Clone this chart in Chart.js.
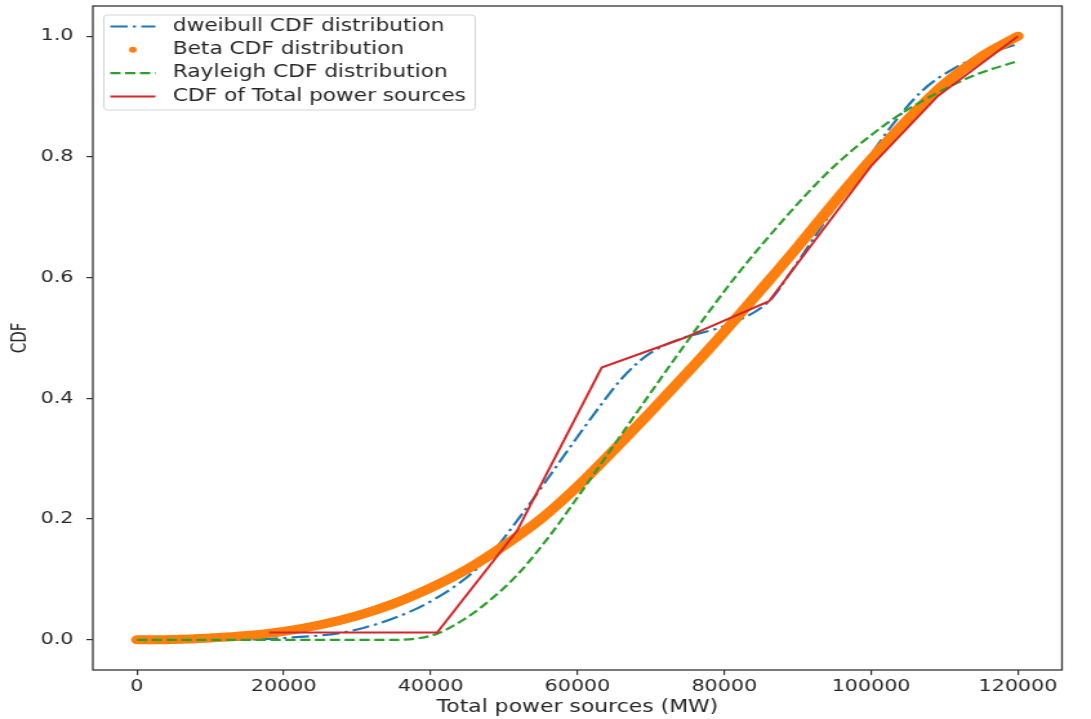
<!DOCTYPE html>
<html lang="en">
<head>
<meta charset="utf-8">
<title>CDF of Total power sources</title>
<script src="https://cdn.jsdelivr.net/npm/chart.js@4.4.0/dist/chart.umd.min.js"></script>
<style>
  html, body { margin: 0; padding: 0; background: #fff; }
  canvas { display: block; }
</style>
</head>
<body>
<!-- drawn narrower, then shown stretched to 1091px like the original figure -->
<canvas id="cdfChart" width="846" height="719" style="width:1091px;height:719px"></canvas>
<script>
// ─── DATA ────────────────────────────────────────────
const xTicks = [0, 20000, 40000, 60000, 80000, 100000, 120000];
const yTicks = [0, 0.2, 0.4, 0.6, 0.8, 1.0];

const dweibullX = [0, 10000, 20000, 30000, 40200, 47000, 52500, 58400, 63000, 66200, 69900, 74400, 80000, 86100, 89000, 93000, 98100, 102700, 107000, 111800, 116000, 120000];
const dweibullY = [0, 0, 0.003, 0.017, 0.065, 0.126, 0.209, 0.309, 0.386, 0.435, 0.475, 0.5, 0.52, 0.561, 0.608, 0.68, 0.77, 0.85, 0.91, 0.95, 0.972, 0.987];

const betaX = [0, 5000, 10000, 15000, 20000, 25000, 30000, 35000, 40000, 45000, 50000, 55000, 60000, 65000, 70000, 75000, 80000, 85000, 90000, 95000, 100000, 105000, 110000, 115000, 120000];
const betaY = [0, 0.0005, 0.003, 0.007, 0.014, 0.025, 0.040, 0.060, 0.086, 0.117, 0.156, 0.200, 0.254, 0.315, 0.378, 0.443, 0.510, 0.580, 0.651, 0.725, 0.796, 0.862, 0.921, 0.966, 1.0];

const rayleighX = [0, 10000, 20000, 30000, 35000, 38000, 40900, 44300, 47000, 51600, 56200, 60700, 65300, 69900, 74400, 78000, 81700, 86000, 90800, 95000, 100000, 104000, 109000, 114000, 120000];
const rayleighY = [0, 0, 0, 0, 0, 0.002, 0.01, 0.032, 0.055, 0.105, 0.172, 0.248, 0.328, 0.408, 0.485, 0.545, 0.604, 0.667, 0.733, 0.785, 0.836, 0.871, 0.906, 0.935, 0.959];

const totalX = [18000, 40900, 51800, 63300, 74500, 86100, 91000, 100000, 109000, 120000];
const totalY = [0.012, 0.012, 0.181, 0.451, 0.50, 0.561, 0.64, 0.785, 0.90, 1.0];

const toPoints = (xs, ys) => xs.map((x, i) => ({ x, y: ys[i] }));

const FONT = 'DejaVu Sans';
const INK  = '#262626';
const AXIS = '#333333';


// ─── PLUGINS: frame + matplotlib-style legend ────────
const frame = {
  id: 'frame',
  afterDraw(chart) {
    const { ctx, chartArea: a } = chart;
    ctx.save();
    ctx.strokeStyle = AXIS;
    ctx.lineWidth = 1.3;
    ctx.strokeRect(a.left, a.top, a.right - a.left, a.bottom - a.top);
    ctx.restore();
  }
};

const mplLegend = {
  id: 'mplLegend',
  afterDatasetsDraw(chart) {
    const { ctx, chartArea: a } = chart;
    const left = a.left + 8.5, top = 15, w = 288, h = 95;
    const rowH = 23.3;

    ctx.save();
    ctx.beginPath();
    ctx.roundRect(left, top, w, h, 3);
    ctx.fillStyle = 'rgba(255,255,255,0.85)';
    ctx.fill();
    ctx.strokeStyle = '#d4d4d4';
    ctx.lineWidth = 1;
    ctx.stroke();

    ctx.font = `16.8px "${FONT}"`;
    ctx.textBaseline = 'middle';
    ctx.textAlign = 'left';

    chart.data.datasets.forEach((ds, i) => {
      const y = top + 11.5 + i * rowH;
      const x0 = left + 5, x1 = left + 40;
      if (ds.legendDot) {
        ctx.beginPath();
        ctx.arc((x0 + x1) / 2, y, 3, 0, Math.PI * 2);
        ctx.fillStyle = ds.borderColor;
        ctx.fill();
      } else {
        ctx.beginPath();
        ctx.setLineDash(ds.borderDash || []);
        ctx.moveTo(x0, y);
        ctx.lineTo(x1, y);
        ctx.strokeStyle = ds.borderColor;
        ctx.lineWidth = ds.borderWidth;
        ctx.stroke();
        ctx.setLineDash([]);
      }
      ctx.fillStyle = INK;
      ctx.fillText(ds.label, left + 53.5, y);
    });
    ctx.restore();
  }
};


// ─── CHART ───────────────────────────────────────────
const tickFont = { family: FONT, size: 16 };

new Chart(document.getElementById('cdfChart'), {
  type: 'scatter',
  data: {
    datasets: [
      {
        label: 'dweibull CDF distribution',
        data: toPoints(dweibullX, dweibullY),
        borderColor: '#1f77b4',
        borderWidth: 2.2,
        borderDash: [13.5, 4, 2.5, 4],
        cubicInterpolationMode: 'monotone',
        order: 4,
      },
      {
        label: 'Beta CDF distribution',
        data: toPoints(betaX, betaY),
        borderColor: '#ff7f0e',
        borderWidth: 9,
        borderCapStyle: 'round',
        borderJoinStyle: 'round',
        cubicInterpolationMode: 'monotone',
        legendDot: true,
        order: 3,
      },
      {
        label: 'Rayleigh CDF distribution',
        data: toPoints(rayleighX, rayleighY),
        borderColor: '#2ca02c',
        borderWidth: 2.2,
        borderDash: [8, 3.5],
        cubicInterpolationMode: 'monotone',
        order: 2,
      },
      {
        label: 'CDF of Total power sources',
        data: toPoints(totalX, totalY),
        borderColor: '#d62728',
        borderWidth: 2,
        tension: 0,
        order: 1,
      },
    ].map(ds => ({ ...ds, showLine: true, pointRadius: 0, pointHoverRadius: 0, fill: false })),
  },
  options: {
    responsive: false,
    animation: false,
    devicePixelRatio: 1,
    layout: { padding: { top: 6, right: 22.5, bottom: 0, left: 0 } },
    plugins: {
      legend: { display: false },
      tooltip: { enabled: false },
    },
    scales: {
      x: {
        type: 'linear',
        min: -6000,
        max: 126000,
        afterBuildTicks: axis => { axis.ticks = xTicks.map(v => ({ value: v })); },
        afterFit: axis => {
          axis.height = 49;
          axis.paddingLeft = 0;
          axis.paddingRight = 0;
        },
        ticks: {
          callback: v => String(v),
          color: INK,
          font: tickFont,
          padding: 2,
          maxRotation: 0,
          autoSkip: false,
        },
        grid: { drawOnChartArea: false, drawTicks: true, tickLength: 5, color: AXIS, lineWidth: 1.2 },
        border: { display: false },
        title: {
          display: true,
          text: 'Total power sources (MW)',
          color: INK,
          font: { family: FONT, size: 17 },
          padding: { top: 0, bottom: 1 },
        },
      },
      y: {
        type: 'linear',
        min: -0.05,
        max: 1.05,
        afterBuildTicks: axis => { axis.ticks = yTicks.map(v => ({ value: v })); },
        afterFit: axis => {
          axis.width = 72;
          axis.paddingTop = 0;
          axis.paddingBottom = 0;
        },
        ticks: {
          callback: v => v.toFixed(1),
          color: INK,
          font: tickFont,
          padding: 10,
        },
        grid: { drawOnChartArea: false, drawTicks: true, tickLength: 5, color: AXIS, lineWidth: 1.2 },
        border: { display: false },
        title: {
          display: true,
          text: 'CDF',
          color: INK,
          font: { family: FONT, size: 15 },
          padding: { top: 7, bottom: 0 },
        },
      },
    },
  },
  plugins: [mplLegend, frame],
});
</script>
</body>
</html>
